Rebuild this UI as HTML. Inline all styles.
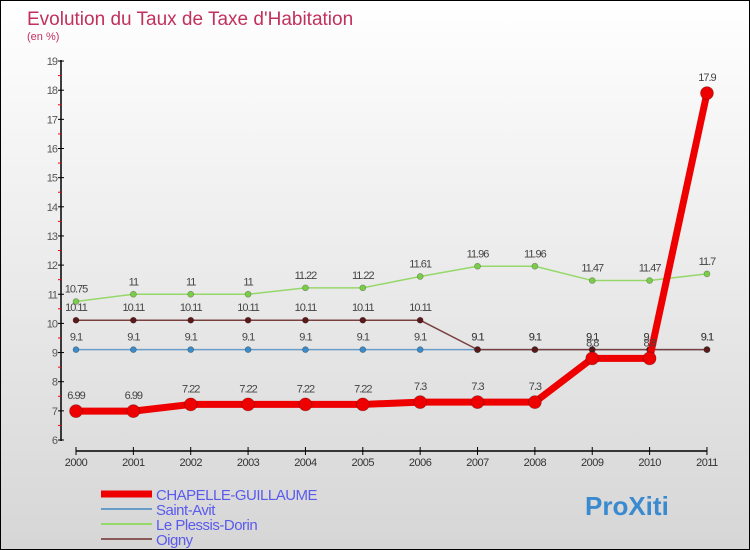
<!DOCTYPE html>
<html><head><meta charset="utf-8"><style>
body{margin:0}
#c{width:748px;height:548px;border:1px solid #000;background:linear-gradient(#fff,#d6d6d6);position:relative;font-family:"Liberation Sans",sans-serif}
</style></head><body>
<div id="c">
<svg id="s" width="748" height="548" style="position:absolute;left:0;top:0">
<text x="26" y="24" font-size="19" fill="#c2305e">Evolution du Taux de Taxe d'Habitation</text>
<text x="26" y="39" font-size="11" fill="#c2305e">(en %)</text>
</svg>
</div>
<script>
const years=["2000","2001","2002","2003","2004","2005","2006","2007","2008","2009","2010","2011"];
const chapelle=[6.99,6.99,7.22,7.22,7.22,7.22,7.3,7.3,7.3,8.8,8.8,17.9];
const saintAvit=[9.1,9.1,9.1,9.1,9.1,9.1,9.1,9.1,9.1,9.1,9.1,9.1];
const plessis=[10.75,11,11,11,11.22,11.22,11.61,11.96,11.96,11.47,11.47,11.7];
const oigny=[10.11,10.11,10.11,10.11,10.11,10.11,10.11,9.1,9.1,9.1,9.1,9.1];
const yTicks=[6,7,8,9,10,11,12,13,14,15,16,17,18,19];
const s=document.getElementById('s');const NS='http://www.w3.org/2000/svg';
function X(i){return 75+i*57.36;}
function Y(v){return 439-(v-6)*29.15;}
function el(t,a,p){const e=document.createElementNS(NS,t);for(const k in a)e.setAttribute(k,a[k]);(p||s).appendChild(e);return e;}
let ax=el('line',{x1:60,y1:59,x2:60,y2:440,stroke:'#000','stroke-width':1.5});


yTicks.forEach(v=>{
 const y=Y(v);
 let t=el('line',{x1:57,y1:y,x2:63,y2:y,stroke:'#000'});
 
 
 if(v<19){let m=el('line',{x1:57,y1:Y(v+0.5),x2:60,y2:Y(v+0.5),stroke:'red'});
 
 }
 let l=el('text',{x:56,y:y+4,'font-size':11,fill:'#555','text-anchor':'end','letter-spacing':'-1'});l.textContent=v;
 
 
});
let xa=el('line',{x1:X(0),y1:450,x2:X(11),y2:450,stroke:'#000','stroke-width':1.5});


years.forEach((yr,i)=>{
 let t=el('line',{x1:X(i),y1:446,x2:X(i),y2:454,stroke:'#000'});
 
 
 let l=el('text',{x:X(i),y:465,'font-size':11,fill:'#333','text-anchor':'middle','letter-spacing':'-0.5'});l.textContent=yr;
 
 
});
function series(data,color,dot,w,r,name,labels){
 const g=el('g',{});
 
 
 el('polyline',{points:data.map((v,i)=>X(i)+','+Y(v)).join(' '),fill:'none',stroke:color,'stroke-width':w,'stroke-linejoin':'round'},g);
 data.forEach((v,i)=>{
  let c=el('circle',{cx:X(i),cy:Y(v),r:r,fill:dot,stroke:'rgba(0,0,0,0.3)','stroke-width':0.7},g);
  
  
  if(labels){let l=el('text',{x:X(i),y:Y(v)-9-(r>4?3:0),'font-size':11,fill:'#444','text-anchor':'middle','letter-spacing':'-1'},g);l.textContent=v;
  
  }
 });
}
series(saintAvit,'#6a9cc8','#3c8ac6',1.5,3,'series-saint-avit',true);
series(plessis,'#95d86a','#7ccc4c',1.5,3,'series-le-plessis-dorin',true);
series(oigny,'#7a4040','#5a1a1a',1.5,3,'series-oigny',true);
series(chapelle,'#ee0000','#ee0000',7,6.5,'series-chapelle-guillaume',true);
const leg=[['CHAPELLE-GUILLAUME','#ee0000',7],['Saint-Avit','#6a9cc8',2],['Le Plessis-Dorin','#95d86a',2],['Oigny','#8a5a5a',2]];
leg.forEach((d,i)=>{
 const y=493+i*15;
 const g=el('g',{});
 
 
 el('line',{x1:100,y1:y,x2:151,y2:y,stroke:d[1],'stroke-width':d[2]},g);
 let t=el('text',{x:155,y:y+6,'font-size':15,fill:'#5a5aee','letter-spacing':'-0.5'},g);t.textContent=d[0];
});
let p=el('text',{x:584,y:514,'font-size':26,'font-weight':'bold',fill:'#3a8ad0'});p.textContent='ProXiti';


</script>
</body></html>
